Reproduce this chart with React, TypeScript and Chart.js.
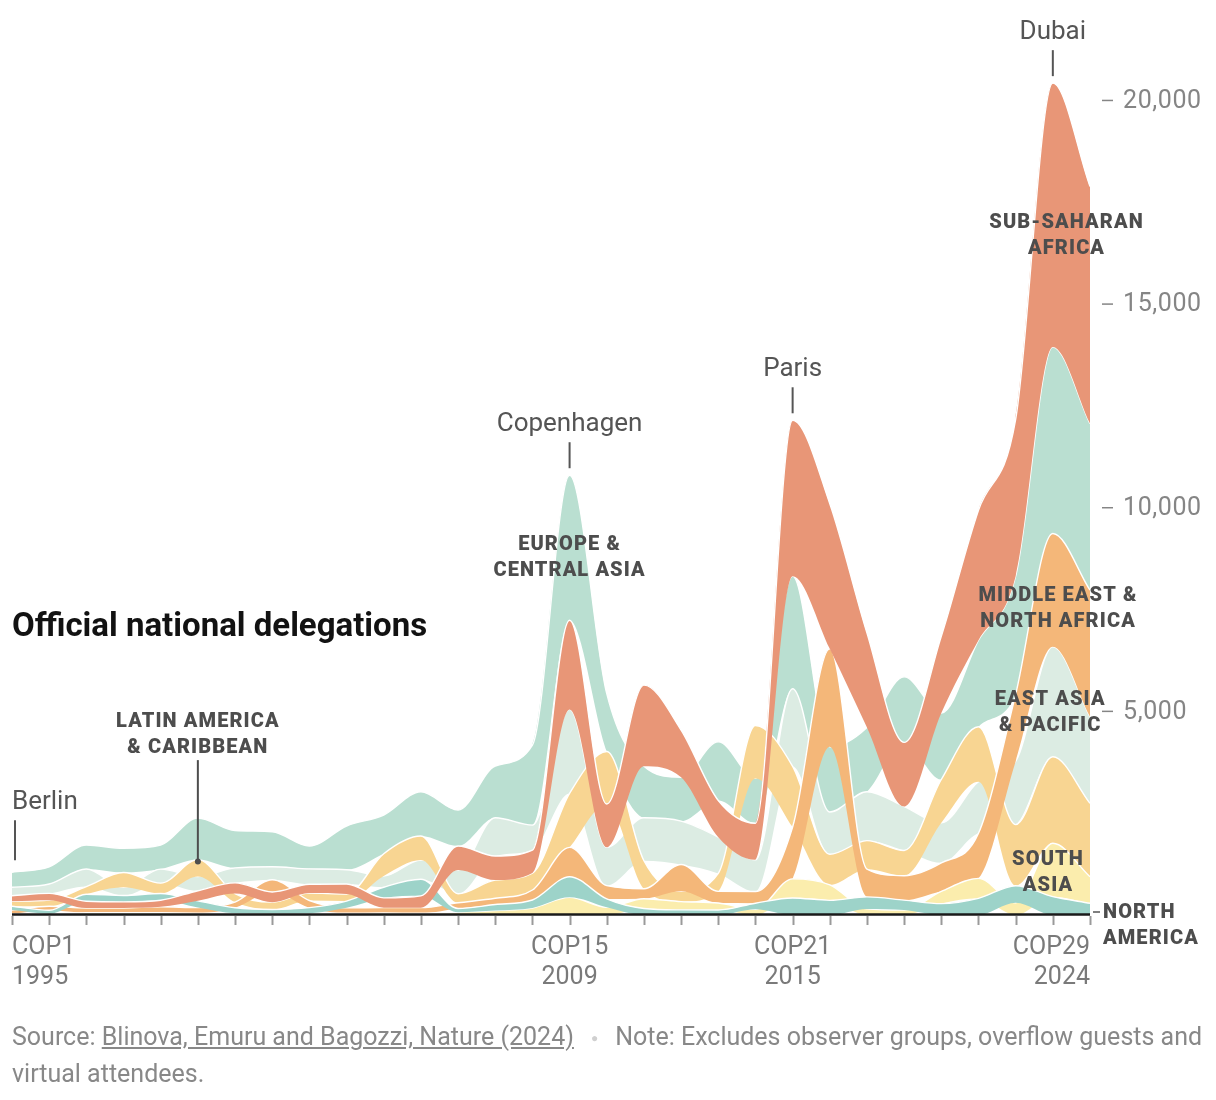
import React, { useEffect, useRef } from "react";
import { Chart, registerables } from "chart.js";

Chart.register(...registerables);

// ---------- DATA (official national delegates per region, per COP) ----------
const copLabels = [
  "COP1", "COP2", "COP3", "COP4", "COP5", "COP6", "COP6-2", "COP7", "COP8", "COP9",
  "COP10", "COP11", "COP12", "COP13", "COP14", "COP15", "COP16", "COP17", "COP18", "COP19",
  "COP20", "COP21", "COP22", "COP23", "COP24", "COP25", "COP26", "COP27", "COP28", "COP29",
];

const europeCentralAsia = [368, 420, 587, 593, 590, 1020, 917, 859, 560, 1073, 952, 1088, 882, 1270, 1963, 3559, 1420, 1268, 1075, 1440, 1100, 2764, 1600, 1577, 1610, 1634, 2128, 2900, 4579, 4090];
const subSaharanAfrica = [135, 165, 167, 150, 161, 248, 262, 250, 216, 246, 240, 290, 589, 591, 564, 2191, 1063, 1990, 1160, 900, 900, 3827, 3564, 2320, 1575, 1882, 3190, 3850, 6479, 5823];
const eastAsiaPacific = [208, 230, 432, 200, 345, 350, 367, 319, 379, 352, 277, 473, 583, 940, 613, 2062, 942, 1055, 1065, 890, 777, 1907, 1040, 1203, 1078, 982, 1266, 1550, 2699, 2125];
const latinAmerica = [123, 150, 189, 364, 254, 414, 209, 180, 182, 172, 544, 587, 222, 447, 417, 1325, 1290, 687, 252, 442, 1300, 1489, 750, 700, 620, 1065, 1350, 1500, 2125, 1801];
const middleEastNorthAfrica = [90, 100, 115, 117, 146, 138, 140, 300, 176, 132, 130, 136, 139, 153, 245, 721, 327, 245, 660, 287, 287, 1272, 2405, 680, 600, 700, 1105, 1650, 2783, 3110];
const northAmerica = [95, 85, 172, 156, 166, 165, 135, 100, 136, 167, 262, 408, 93, 148, 196, 506, 204, 160, 126, 123, 150, 417, 360, 295, 245, 280, 409, 420, 450, 287];
const southAsia = [30, 30, 56, 56, 55, 45, 43, 36, 44, 43, 50, 44, 68, 109, 172, 434, 190, 240, 203, 170, 140, 471, 380, 150, 120, 300, 491, 300, 1310, 653];

const yTickValues = [5000, 10000, 15000, 20000];
const xTickLabels = [
  { index: 0, cop: "COP1", year: "1995", align: "left" },
  { index: 15, cop: "COP15", year: "2009", align: "center" },
  { index: 21, cop: "COP21", year: "2015", align: "center" },
  { index: 29, cop: "COP29", year: "2024", align: "right" },
];
const cityLabels = [
  { index: 0, name: "Berlin" },
  { index: 15, name: "Copenhagen" },
  { index: 21, name: "Paris" },
  { index: 28, name: "Dubai" },
];

// region definitions (z: higher is drawn underneath)
const regions = [
  { key: "eu", name: "Europe & Central Asia", values: europeCentralAsia, color: "#badfd1", z: 7 },
  { key: "eap", name: "East Asia & Pacific", values: eastAsiaPacific, color: "#dcece3", z: 6 },
  { key: "lac", name: "Latin America & Caribbean", values: latinAmerica, color: "#f8d592", z: 5 },
  { key: "mena", name: "Middle East & North Africa", values: middleEastNorthAfrica, color: "#f4b779", z: 4 },
  { key: "sa", name: "South Asia", values: southAsia, color: "#fbedad", z: 3 },
  { key: "na", name: "North America", values: northAmerica, color: "#9dd3c9", z: 2 },
  { key: "ssa", name: "Sub-Saharan Africa", values: subSaharanAfrica, color: "#e89677", z: 1 },
];

// stack per COP, smallest region at the bottom
function computeStacks() {
  const n = copLabels.length;
  const lower: Record<string, number[]> = {};
  const upper: Record<string, number[]> = {};
  regions.forEach((r) => {
    lower[r.key] = new Array(n).fill(0);
    upper[r.key] = new Array(n).fill(0);
  });
  const totals: number[] = [];
  for (let i = 0; i < n; i++) {
    const sorted = [...regions].sort((a, b) => a.values[i] - b.values[i]);
    let acc = 0;
    sorted.forEach((r) => {
      lower[r.key][i] = acc;
      acc += r.values[i];
      upper[r.key][i] = acc;
    });
    totals.push(acc);
  }
  return { lower, upper, totals };
}

const FONT = 'Roboto, "Noto Sans", Arial, sans-serif';

export default function App() {
  const canvasRef = useRef<HTMLCanvasElement | null>(null);

  useEffect(() => {
    if (!canvasRef.current) return;
    const { lower, upper, totals } = computeStacks();

    const datasets: any[] = [];
    regions.forEach((r, k) => {
      datasets.push({
        label: r.name + " base",
        data: lower[r.key],
        borderWidth: 0,
        borderColor: "rgba(0,0,0,0)",
        pointRadius: 0,
        fill: false,
        cubicInterpolationMode: "monotone",
        order: r.z,
      });
      datasets.push({
        label: r.name,
        data: upper[r.key],
        borderWidth: 1.4,
        borderColor: "#ffffff",
        backgroundColor: r.color,
        pointRadius: 0,
        fill: 2 * k,
        cubicInterpolationMode: "monotone",
        order: r.z,
      });
    });

    const annotations = {
      id: "annotations",
      afterDraw(chart: any) {
        const ctx: CanvasRenderingContext2D = chart.ctx;
        const xs = chart.scales.x;
        const ys = chart.scales.y;
        const X = (i: number) => xs.getPixelForValue(i);
        const Y = (v: number) => ys.getPixelForValue(v);
        const area = chart.chartArea;
        const y0 = Y(0);
        ctx.save();

        // baseline
        ctx.strokeStyle = "#1a1a1a";
        ctx.lineWidth = 2.5;
        ctx.beginPath();
        ctx.moveTo(X(0), y0 - 0.5);
        ctx.lineTo(X(copLabels.length - 1), y0 - 0.5);
        ctx.stroke();

        // x ticks
        ctx.strokeStyle = "#9a9a9a";
        ctx.lineWidth = 2;
        for (let i = 0; i < copLabels.length; i++) {
          const px = Math.round(X(i)) + 0.5;
          ctx.beginPath();
          ctx.moveTo(px, y0 + 1);
          ctx.lineTo(px, y0 + 10);
          ctx.stroke();
        }

        // x labels
        ctx.fillStyle = "#7a7a7a";
        ctx.font = `25px ${FONT}`;
        ctx.textBaseline = "middle";
        xTickLabels.forEach((t) => {
          ctx.textAlign = t.align as CanvasTextAlign;
          const px = X(t.index);
          ctx.fillText(t.cop, px, y0 + 33);
          ctx.fillText(t.year, px, y0 + 63);
        });

        // y ticks
        ctx.textAlign = "left";
        ctx.font = `25px ${FONT}`;
        ctx.fillStyle = "#858585";
        yTickValues.forEach((v) => {
          const py = Y(v);
          ctx.strokeStyle = "#858585";
          ctx.lineWidth = 1.5;
          ctx.beginPath();
          ctx.moveTo(area.right + 12, py);
          ctx.lineTo(area.right + 23, py);
          ctx.stroke();
          (ctx as any).letterSpacing = "0.6px";
          ctx.fillText(v.toLocaleString("en-US"), area.right + 33, py + 1);
          (ctx as any).letterSpacing = "0px";
        });
        // zero tick
        ctx.strokeStyle = "#555";
        ctx.lineWidth = 1.5;
        ctx.beginPath();
        ctx.moveTo(area.right + 3, y0 - 3);
        ctx.lineTo(area.right + 10, y0 - 3);
        ctx.stroke();

        // city labels with leaders
        ctx.fillStyle = "#555555";
        ctx.strokeStyle = "#555555";
        ctx.lineWidth = 2;
        ctx.font = `26px ${FONT}`;
        cityLabels.forEach((c) => {
          const px = X(c.index);
          const top = Y(totals[c.index]);
          const isEdge = c.index === 0;
          const bottom = top - (isEdge ? 12 : 7);
          const lineTop = bottom - (isEdge ? 40 : 26);
          const lx = isEdge ? px + 3 : px;
          ctx.beginPath();
          ctx.moveTo(lx, lineTop);
          ctx.lineTo(lx, bottom);
          ctx.stroke();
          ctx.textAlign = isEdge ? "left" : "center";
          ctx.fillText(c.name, px, lineTop - 18);
        });

        // region labels
        const drawRegion = (lines: string[], px: number, py: number, align: CanvasTextAlign = "center") => {
          ctx.font = `900 20px ${FONT}`;
          (ctx as any).letterSpacing = "1.1px";
          ctx.textAlign = align;
          ctx.fillStyle = "#4d4d4d";
          lines.forEach((l, j) => ctx.fillText(l, px, py + j * 26));
          (ctx as any).letterSpacing = "0px";
        };
        drawRegion(["EUROPE &", "CENTRAL ASIA"], X(15), Y(9080));
        drawRegion(["LATIN AMERICA", "& CARIBBEAN"], X(5), Y(4736));
        drawRegion(["SUB-SAHARAN", "AFRICA"], X(28.37), Y(17000));
        drawRegion(["MIDDLE EAST &", "NORTH AFRICA"], X(28.14), Y(7830));
        drawRegion(["EAST ASIA", "& PACIFIC"], X(27.93), Y(5280));
        drawRegion(["SOUTH", "ASIA"], X(27.87), Y(1350));
        drawRegion(["NORTH", "AMERICA"], area.right + 13, y0 - 2, "left");

        // Latin America pointer
        const lacTop = Y(upper["lac"][5]);
        ctx.strokeStyle = "#4d4d4d";
        ctx.lineWidth = 2;
        ctx.beginPath();
        ctx.moveTo(X(5), Y(4736) + 38);
        ctx.lineTo(X(5), lacTop + 2);
        ctx.stroke();
        ctx.fillStyle = "#4d4d4d";
        ctx.beginPath();
        ctx.arc(X(5), lacTop + 2, 3, 0, Math.PI * 2);
        ctx.fill();

        // title
        ctx.fillStyle = "#121212";
        ctx.font = `bold 33px ${FONT}`;
        ctx.textAlign = "left";
        ctx.fillText("Official national delegations", 12, 628);

        ctx.restore();
      },
    };

    const chart = new Chart(canvasRef.current, {
      type: "line",
      data: { labels: copLabels, datasets },
      options: {
        animation: false,
        responsive: false,
        devicePixelRatio: 1,
        events: [],
        layout: { padding: { left: 12, right: 126, top: 19, bottom: 185 } },
        scales: {
          x: { type: "category", display: false, offset: false },
          y: { type: "linear", display: false, min: 0, max: 22000 },
        },
        plugins: {
          legend: { display: false },
          tooltip: { enabled: false },
        },
      },
      plugins: [annotations],
    });

    return () => chart.destroy();
  }, []);

  return (
    <div style={{ position: "absolute", left: 0, top: 0, width: 1216, height: 1100, background: "#fff" }}>
      <canvas ref={canvasRef} width={1216} height={1100} style={{ display: "block", width: 1216, height: 1100 }} />
      <div
        style={{
          position: "absolute",
          left: 12,
          top: 1019,
          width: 1200,
          fontFamily: FONT,
          fontSize: 25,
          lineHeight: "36px",
          color: "#888",
          whiteSpace: "nowrap",
        }}
      >
        Source: <span style={{ textDecoration: "underline" }}>Blinova, Emuru and Bagozzi, Nature (2024)</span>
        <span style={{ color: "#d0d0d0", fontSize: 12, margin: "0 17px", verticalAlign: "middle" }}>●</span>
        Note: Excludes observer groups, overflow guests and
        <br />
        virtual attendees.
      </div>
    </div>
  );
}
